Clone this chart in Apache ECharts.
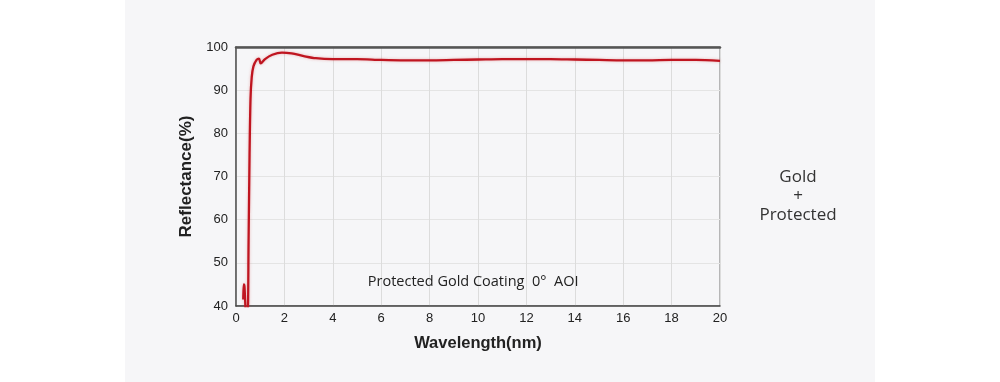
<!DOCTYPE html>
<html>
<head>
<meta charset="utf-8">
<script src="https://cdn.jsdelivr.net/npm/echarts@6/dist/echarts.min.js"></script>
<style>
html,body{margin:0;padding:0;background:#fff;}
#chart{width:1000px;height:382px;}
</style>
</head>
<body>
<div id="chart"></div>
<script>
// Wavelength (nm) values
const wavelengths = [0.30,0.32,0.35,0.38,0.42,0.48,0.52,0.56,0.60,0.65,0.72,0.85,0.95,1.02,1.2,1.5,1.9,2.3,2.8,3.3,4.0,5.0,6.0,7.0,8.0,9.0,10.0,11.0,12.0,13.0,14.0,15.0,16.0,17.0,18.0,19.0,20.0];
// Reflectance (%) values
const reflectance = [41.5,45,44.5,41,38,38,55,75,88,93,95.5,97,97.3,96.2,97.2,98.2,98.7,98.5,97.9,97.4,97.2,97.2,97.0,96.9,96.9,97.0,97.1,97.2,97.2,97.2,97.1,97.0,96.9,96.9,97.0,97.0,96.8];
const xTicks = [0,2,4,6,8,10,12,14,16,18,20];
const yTicks = [40,50,60,70,80,90,100];
const annotation = 'Protected Gold Coating  0°  AOI';
const sideLabel = ['Gold', '+', 'Protected'];

const seriesData = wavelengths.map((w, i) => [w, reflectance[i]]);

const chart = echarts.init(document.getElementById('chart'), null, {renderer: 'canvas'});
chart.setOption({
  backgroundColor: '#ffffff',
  animation: false,
  graphic: [
    {type: 'rect', z: -10, shape: {x: 125, y: 0, width: 750, height: 382}, style: {fill: '#f6f6f8'}},
    {type: 'text', z: 10, style: {text: sideLabel.join('\n'), x: 798, y: 168, textAlign: 'center', font: '17px "Open Sans", "Liberation Sans", sans-serif', fill: '#333', lineHeight: 19}}
  ],
  grid: {left: 236, right: 280, top: 47, bottom: 76, show: true, borderColor: '#777', borderWidth: 1, backgroundColor: 'transparent'},
  xAxis: [{
    type: 'value', min: 0, max: 20, interval: 2,
    name: 'Wavelength(nm)', nameLocation: 'middle', nameGap: 29,
    nameTextStyle: {fontSize: 16.5, fontWeight: 'bold', color: '#222', fontFamily: 'Liberation Sans, Arial, sans-serif'},
    axisLine: {show: true, lineStyle: {color: '#444', width: 1.5}},
    axisTick: {show: false},
    axisLabel: {color: '#222', fontSize: 13, margin: 6, fontFamily: 'Liberation Sans, Arial, sans-serif'},
    splitLine: {show: true, lineStyle: {color: '#dcdcdc', width: 1}}
  }, {
    type: 'value', min: 0, max: 20, position: 'top',
    axisLine: {show: true, onZero: false, lineStyle: {color: '#555', width: 2.5}},
    axisTick: {show: false}, axisLabel: {show: false}, splitLine: {show: false}
  }],
  yAxis: {
    type: 'value', min: 40, max: 100, interval: 10,
    name: 'Reflectance(%)', nameLocation: 'middle', nameGap: 41, nameRotate: 90,
    nameTextStyle: {fontSize: 17, fontWeight: 'bold', color: '#222', fontFamily: 'Liberation Sans, Arial, sans-serif'},
    axisLine: {show: true, lineStyle: {color: '#555', width: 1.5}},
    axisTick: {show: false},
    axisLabel: {color: '#222', fontSize: 13, margin: 8, fontFamily: 'Liberation Sans, Arial, sans-serif'},
    splitLine: {show: true, lineStyle: {color: '#e4e4e4', width: 1}}
  },
  series: [{
    type: 'line', data: seriesData, showSymbol: false, smooth: 0.3, clip: true,
    lineStyle: {color: '#bf1520', width: 2.3, shadowColor: 'rgba(210,60,60,0.35)', shadowBlur: 3},
    markPoint: {
      symbol: 'rect', symbolSize: 0,
      label: {show: true, formatter: annotation, color: '#222', fontSize: 14.5, fontFamily: '"Open Sans", "Liberation Sans", sans-serif'},
      data: [{coord: [9.8, 45.5]}]
    }
  }]
});
</script>
</body>
</html>
